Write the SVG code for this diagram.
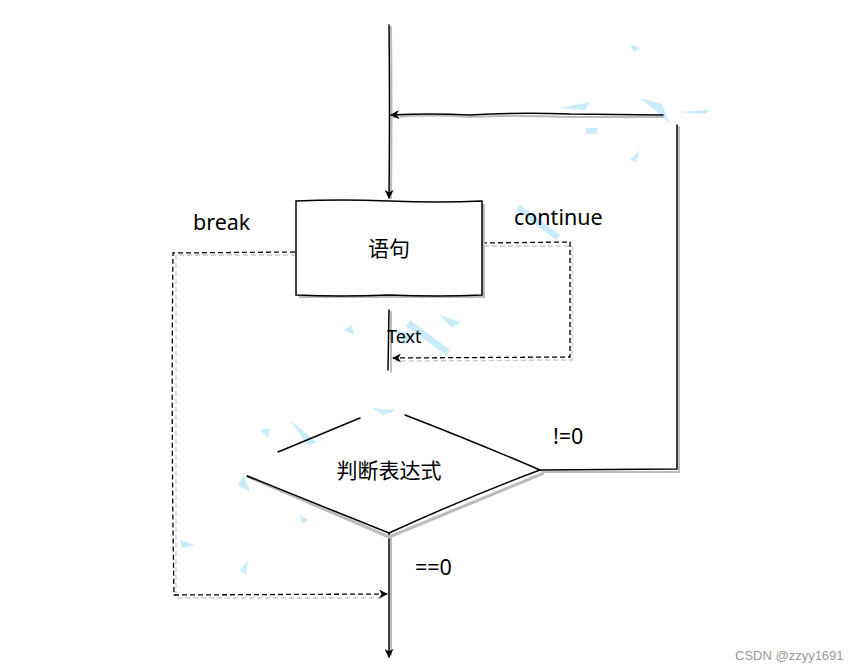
<svg xmlns="http://www.w3.org/2000/svg" width="857" height="672" viewBox="0 0 857 672">
<style>
.ln{fill:none;stroke:#000;stroke-width:1.5;stroke-linecap:round;stroke-linejoin:round}
.sh{fill:none;stroke:#bbb;stroke-width:2;stroke-linecap:round}
.da{fill:none;stroke:#000;stroke-width:1.3;stroke-dasharray:5 3}
.dsh{fill:none;stroke:#c8c8c8;stroke-width:1.3;stroke-dasharray:5 3}
.t{font-family:"Noto Sans","Liberation Sans","Noto Sans CJK SC",sans-serif;fill:#000}
.blue{fill:#c9ecfb;stroke:none}
</style>
<defs>
<marker id="ah" viewBox="0 0 10 10" refX="9" refY="5" markerWidth="9" markerHeight="9" markerUnits="userSpaceOnUse" orient="auto">
<path d="M0,0 L10,5 L0,10 L3,5 Z" fill="#000"/>
</marker>
</defs>
<rect width="857" height="672" fill="#fff"/>
<g id="scribbles">
<path class="blue" d="M560,108 L590,102 L585,110 Z"/>
<path class="blue" d="M640,98 L662,104 L670,124 L655,110 Z"/>
<path class="blue" d="M630,44 L640,48 L634,52 Z"/>
<path class="blue" d="M678,112 L710,110 L705,114 Z"/>
<path class="blue" d="M586,128 L598,128 L597,134 L586,134 Z"/>
<path class="blue" d="M630,160 L640,150 L636,162 Z"/>
<path class="blue" d="M520,205 L560,235 L556,240 L516,210 Z"/>
<path class="blue" d="M440,250 L462,264 L458,268 Z"/>
<path class="blue" d="M410,320 L450,350 L446,355 L406,326 Z"/>
<path class="blue" d="M395,330 L415,335 L405,345 Z"/>
<path class="blue" d="M440,315 L460,322 L452,328 Z"/>
<path class="blue" d="M344,330 L352,325 L354,335 Z"/>
<path class="blue" d="M372,408 L395,410 L385,416 Z"/>
<path class="blue" d="M290,420 L320,445 L312,452 Z"/>
<path class="blue" d="M260,430 L270,428 L268,438 Z"/>
<path class="blue" d="M298,450 L325,438 L330,446 Z"/>
<path class="blue" d="M238,485 L244,475 L250,492 Z"/>
<path class="blue" d="M300,470 L305,490 L296,478 Z"/>
<path class="blue" d="M300,515 L308,520 L302,524 Z"/>
<path class="blue" d="M240,570 L248,560 L246,575 Z"/>
<path class="blue" d="M180,540 L195,545 L182,548 Z"/>
<path class="blue" d="M355,490 L365,500 L358,502 Z"/>
</g>
<g id="connectors">
<path class="sh" d="M391,27 Q392,110 391,198"/>
<path class="ln" d="M389,25 Q390,110 389,198" marker-end="url(#ah)"/>
<path class="sh" d="M542,472 L679,472 L679,127"/>
<path class="ln" d="M540,470 L677,469 L677,125"/>
<path class="sh" d="M393,117 Q430,114 470,117 Q520,115 570,117 L663,117"/>
<path class="ln" d="M663,115 L570,114 Q520,112 470,115 Q430,113 391,115" marker-end="url(#ah)"/>
<path class="sh" d="M391,312 L391,372"/>
<path class="ln" d="M389,310 L388,370"/>
<path class="dsh" d="M484,246 L572,246 L572,360 L395,361"/>
<path class="da" d="M482,243 L570,242 L570,357 L393,358" marker-end="url(#ah)"/>
<path class="dsh" d="M296,255 L176,255 L176,598 L385,598"/>
<path class="da" d="M295,252 L173,253 Q171,420 174,595 L387,594" marker-end="url(#ah)"/>
<path class="sh" d="M391,535 L391,655"/>
<path class="ln" d="M389,533 L389,657" marker-end="url(#ah)"/>
</g>
<g id="stmt">
<path d="M299,204 L485,204 L485,298 L299,298 Z" fill="#bbb" stroke="none"/>
<path d="M296,201 Q340,199 389,201 Q440,203 482,201 L482,295 Q440,297 389,295 Q340,297 296,295 Z" fill="#fff" stroke="#000" stroke-width="1.5"/>
<text class="t" x="389" y="256" font-size="21" text-anchor="middle">语句</text>
</g>
<g id="decision">
<path d="M247,476 L389,537 L544,473" fill="none" stroke="#bbb" stroke-width="3"/>
<path d="M243,472 L389,413 L540,470 L389,533 Z" fill="#fff" stroke="none"/>
<path class="ln" d="M278,452 L360,418"/>
<path class="ln" d="M405,415 Q470,440 540,470"/>
<path class="ln" d="M540,470 Q470,496 389,533 Q320,505 247,476"/>
<text class="t" x="389" y="478" font-size="21" text-anchor="middle">判断表达式</text>
</g>
<g id="labels">
<text class="t" x="193" y="230" font-size="21.5">break</text>
<text class="t" x="514" y="225" font-size="21.5">continue</text>
<text class="t" x="387" y="343" font-size="18">Text</text>
<text class="t" x="553" y="444" font-size="21.5">!=0</text>
<text class="t" x="415" y="575" font-size="21.5">==0</text>
<text x="735" y="660" font-family="Liberation Sans,Arial,sans-serif" font-size="13" fill="#999">CSDN @zzyy1691</text>
</g>
</svg>
